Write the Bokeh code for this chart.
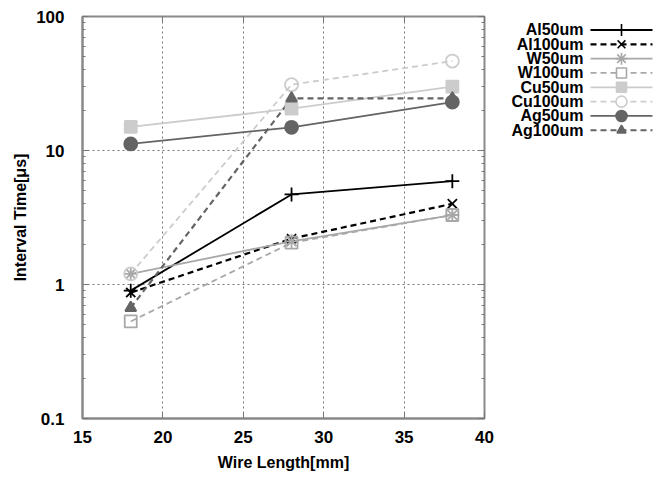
from bokeh.plotting import figure
from bokeh.models import Range1d, FixedTicker, LogAxis, LinearAxis, CustomJSTickFormatter
from bokeh.layouts import row
from bokeh.embed import file_html
from bokeh.resources import INLINE
from bokeh.core.properties import value

# ---- data ----
wire_length = [18, 28, 38]
al50um = [0.90, 4.7, 5.9]
al100um = [0.87, 2.2, 4.0]
w50um = [1.2, 2.1, 3.3]
w100um = [0.53, 2.05, 3.3]
cu50um = [15.0, 20.5, 30.0]
cu100um = [1.2, 31.0, 46.5]
ag50um = [11.2, 14.9, 23.0]
ag100um = [0.67, 24.5, 24.5]

series_names = ["Al50um", "Al100um", "W50um", "W100um", "Cu50um", "Cu100um", "Ag50um", "Ag100um"]
series_values = [al50um, al100um, w50um, w100um, cu50um, cu100um, ag50um, ag100um]

x_ticks = [15, 20, 25, 30, 35, 40]
y_ticks = [0.1, 1, 10, 100]

# ---- styles ----
colors = ["#000000", "#000000", "#a8a8a8", "#a8a8a8", "#cccccc", "#cccccc", "#646464", "#646464"]
dashes = ["solid", "6 4", "solid", "6 4", "solid", "6 4", "solid", "6 4"]
widths = [1.8, 2.2, 1.8, 1.8, 1.8, 1.8, 1.8, 2.2]
markers = ["cross", "x", "asterisk", "square", "square", "circle", "circle", "triangle"]
filled = [False, False, False, False, True, False, True, True]
msizes = [14, 13, 14, 12, 12, 13, 13, 11]

FONT = "Liberation Sans"
GRID = "#777777"
FRAME = "#8a8a8a"

p = figure(width=500, height=477, y_axis_type="log",
           x_range=Range1d(15, 40), y_range=Range1d(0.1, 100),
           output_backend="svg", toolbar_location=None,
           min_border_left=82, min_border_right=16, min_border_top=16, min_border_bottom=59)
p.background_fill_color = "white"
p.border_fill_color = "white"
p.outline_line_color = FRAME
p.outline_line_width = 2

minor_y = [m * 10.0 ** e for e in (-1, 0, 1) for m in range(2, 10)]
yticker = FixedTicker(ticks=y_ticks, minor_ticks=minor_y)
xticker = FixedTicker(ticks=x_ticks)

p.yaxis.ticker = yticker
p.yaxis.formatter = CustomJSTickFormatter(code="return String(tick)")
p.xaxis.ticker = xticker
p.xaxis.axis_label = "Wire Length[mm]"
p.yaxis.axis_label = "Interval Time[\u03bcs]"

for ax in p.axis:
    ax.axis_line_color = FRAME
    ax.axis_line_width = 2
    ax.major_tick_in = 6
    ax.major_tick_out = 0
    ax.minor_tick_in = 3
    ax.minor_tick_out = 0
    ax.major_tick_line_color = GRID
    ax.minor_tick_line_color = GRID
    ax.major_label_text_font = FONT
    ax.major_label_text_font_style = "bold"
    ax.major_label_text_font_size = "17px"
    ax.major_label_text_color = "black"
    ax.axis_label_text_font = FONT
    ax.axis_label_text_font_style = "bold"
    ax.axis_label_text_font_size = "16px"
    ax.axis_label_text_color = "black"
p.xaxis.major_label_standoff = 12
p.yaxis.major_label_standoff = 18
p.xaxis.axis_label_standoff = 8
p.yaxis.axis_label_standoff = 4

# mirrored tick axes
ra = LogAxis(ticker=yticker, formatter=CustomJSTickFormatter(code="return ''"),
             axis_line_color=None, major_tick_in=6, major_tick_out=0, minor_tick_in=3, minor_tick_out=0,
             major_tick_line_color=GRID, minor_tick_line_color=GRID, major_label_standoff=0)
p.add_layout(ra, "right")
ta = LinearAxis(ticker=xticker, formatter=CustomJSTickFormatter(code="return ''"),
                axis_line_color=None, major_tick_in=6, major_tick_out=0, minor_tick_in=0, minor_tick_out=0,
                major_tick_line_color=GRID, major_label_standoff=0)
p.add_layout(ta, "above")

p.xgrid.ticker = FixedTicker(ticks=x_ticks[1:-1])
p.ygrid.ticker = FixedTicker(ticks=y_ticks[1:-1])
for g in (p.xgrid, p.ygrid):
    g.grid_line_color = GRID
    g.grid_line_dash = "2 3"
    g.grid_line_width = 1

for i, vals in enumerate(series_values):
    p.line(wire_length, vals, line_color=colors[i], line_dash=dashes[i], line_width=widths[i])
for i, vals in enumerate(series_values):
    p.scatter(wire_length, vals, marker=markers[i], size=msizes[i],
              line_color=colors[i], line_width=1.8,
              fill_color=colors[i] if filled[i] else "white",
              fill_alpha=1.0 if filled[i] else 0.0)

# ---- legend panel ----
leg = figure(width=160, height=477, x_range=Range1d(0, 160), y_range=Range1d(477, 0),
             output_backend="svg", toolbar_location=None,
             x_axis_location=None, y_axis_location=None, min_border=0)
leg.grid.visible = False
leg.outline_line_color = None
leg.background_fill_color = "white"
leg.border_fill_color = "white"

row_y = [16 + 17 * i for i in range(len(series_names))]
leg.text(x=[83] * len(series_names), y=row_y, text=series_names,
         text_align="right", text_baseline="middle",
         text_font=value(FONT), text_font_style="bold", text_font_size="16px", text_color="black")
for i, yy in enumerate(row_y):
    leg.line([90, 152], [yy, yy], line_color=colors[i], line_dash=dashes[i], line_width=widths[i])
    leg.scatter([121], [yy], marker=markers[i], size=msizes[i] - 2,
                line_color=colors[i], line_width=1.6,
                fill_color=colors[i] if filled[i] else "white",
                fill_alpha=1.0)

layout = row(p, leg)
open("out.html", "w").write(file_html(layout, INLINE))
